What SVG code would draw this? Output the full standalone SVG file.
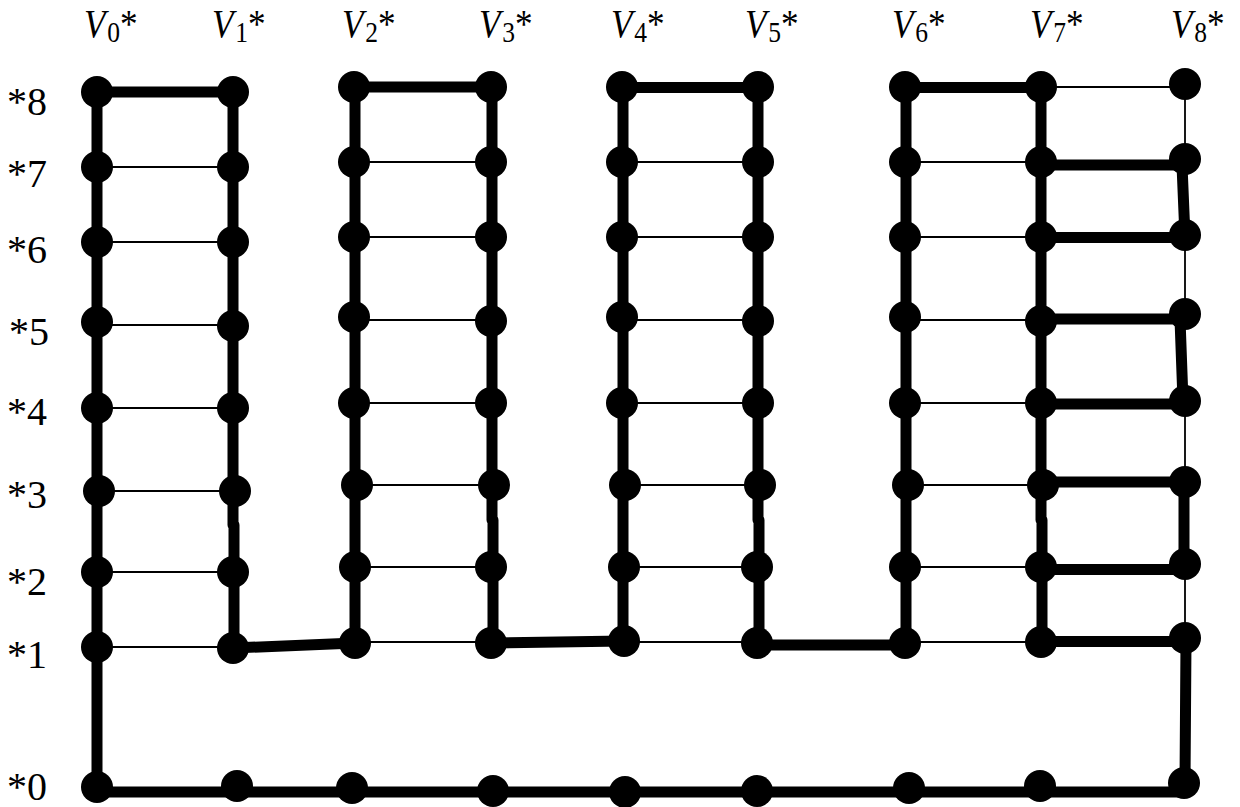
<svg xmlns="http://www.w3.org/2000/svg" width="1240" height="807" viewBox="0 0 1240 807">
<style>
.bg{fill:#fff}
.lbl{font-family:"Liberation Serif","Times New Roman",serif;font-size:40px;fill:#000}
.v{font-style:italic}
.sub{font-size:29px}
.thick{stroke:#000;stroke-width:11;fill:none;stroke-linejoin:round}
.thin{stroke:#000;stroke-width:1.8;fill:none}
.node{fill:#000}
</style>
<rect class="bg" x="0" y="0" width="1240" height="807"/>
<g id="col-labels">
<text class="lbl" transform="translate(84 37) scale(0.88 1)"><tspan class="v">V</tspan><tspan class="sub" dx="2" dy="5">0</tspan><tspan dy="-5">*</tspan></text>
<text class="lbl" transform="translate(212 37) scale(0.88 1)"><tspan class="v">V</tspan><tspan class="sub" dx="2" dy="5">1</tspan><tspan dy="-5">*</tspan></text>
<text class="lbl" transform="translate(342 37) scale(0.88 1)"><tspan class="v">V</tspan><tspan class="sub" dx="2" dy="5">2</tspan><tspan dy="-5">*</tspan></text>
<text class="lbl" transform="translate(479 37) scale(0.88 1)"><tspan class="v">V</tspan><tspan class="sub" dx="2" dy="5">3</tspan><tspan dy="-5">*</tspan></text>
<text class="lbl" transform="translate(611 37) scale(0.88 1)"><tspan class="v">V</tspan><tspan class="sub" dx="2" dy="5">4</tspan><tspan dy="-5">*</tspan></text>
<text class="lbl" transform="translate(745 37) scale(0.88 1)"><tspan class="v">V</tspan><tspan class="sub" dx="2" dy="5">5</tspan><tspan dy="-5">*</tspan></text>
<text class="lbl" transform="translate(892 37) scale(0.88 1)"><tspan class="v">V</tspan><tspan class="sub" dx="2" dy="5">6</tspan><tspan dy="-5">*</tspan></text>
<text class="lbl" transform="translate(1030 37) scale(0.88 1)"><tspan class="v">V</tspan><tspan class="sub" dx="2" dy="5">7</tspan><tspan dy="-5">*</tspan></text>
<text class="lbl" transform="translate(1171 37) scale(0.88 1)"><tspan class="v">V</tspan><tspan class="sub" dx="2" dy="5">8</tspan><tspan dy="-5">*</tspan></text>
</g>
<g id="row-labels">
<text class="lbl" x="7" y="115">*8</text>
<text class="lbl" x="7" y="187">*7</text>
<text class="lbl" x="7" y="263">*6</text>
<text class="lbl" x="9" y="345">*5</text>
<text class="lbl" x="7" y="425">*4</text>
<text class="lbl" x="7" y="508">*3</text>
<text class="lbl" x="7" y="595">*2</text>
<text class="lbl" x="7" y="668">*1</text>
<text class="lbl" x="7" y="800">*0</text>
</g>
<g id="connectors">
<g id="thin-edges" class="thin">
<path d="M97 167H233M97 242H233M97 325H233M97 408H233M97 491H233M97 572H233M97 647H233"/>
<path d="M354 162H491M354 237H491M354 320H491M354 403H491M354 485H491M354 567H491M354 642H491"/>
<path d="M622 162H758M622 237H758M622 320H758M622 403H758M622 485H758M622 567H758M622 642H758"/>
<path d="M905 162H1041M905 237H1041M905 320H1041M905 403H1041M905 485H1041M905 567H1041M905 642H1041"/>
<path d="M1041 87H1185"/>
<path d="M1185 84V159M1185 235V314M1185 401V482M1185 564V638"/>
</g>
<g id="thick-edges" class="thick">
<path d="M97 92V787"/>
<path d="M97 92H233"/>
<path d="M233 92V525H234V648"/>
<path d="M233 648L355 643"/>
<path d="M355 87V643"/>
<path d="M355 87H491"/>
<path d="M492 87V520H493V643"/>
<path d="M492 643L624 641"/>
<path d="M623 87V641"/>
<path d="M623 87.5H758"/>
<path d="M758 87V520H759V643"/>
<path d="M758 645H905"/>
<path d="M906 87V643"/>
<path d="M906 87.5H1041"/>
<path d="M1041 87V520H1042V642"/>
<path d="M1041 165H1182M1041 237.5H1185M1041 319H1180M1041 404H1185M1043 482H1185M1041 569.5H1185M1041 641.5H1185"/>
<path d="M1182 165L1185 237M1180 319L1183 401M1184 482V564M1186 641L1185 783"/>
<path d="M97 792H1185"/>
</g>
</g>
<g id="nodes" class="node">
<g id="V0"><circle cx="97" cy="92" r="16"/><circle cx="97" cy="167" r="16"/><circle cx="97" cy="242" r="16"/><circle cx="97" cy="322" r="16"/><circle cx="97" cy="408" r="16"/><circle cx="99" cy="491" r="16"/><circle cx="97" cy="572" r="16"/><circle cx="97" cy="647" r="16"/><circle cx="97" cy="787" r="16"/></g>
<g id="V1"><circle cx="233" cy="92" r="16"/><circle cx="233" cy="167" r="16"/><circle cx="233" cy="242" r="16"/><circle cx="233" cy="326" r="16"/><circle cx="233" cy="408" r="16"/><circle cx="235" cy="491" r="16"/><circle cx="233" cy="572" r="16"/><circle cx="233" cy="648" r="16"/><circle cx="237" cy="786" r="16"/></g>
<g id="V2"><circle cx="354" cy="87" r="16"/><circle cx="354" cy="162" r="16"/><circle cx="354" cy="237" r="16"/><circle cx="354" cy="317" r="16"/><circle cx="354" cy="403" r="16"/><circle cx="357" cy="485" r="16"/><circle cx="355" cy="567" r="16"/><circle cx="355" cy="643" r="16"/><circle cx="352" cy="788" r="16"/></g>
<g id="V3"><circle cx="491" cy="87" r="16"/><circle cx="491" cy="162" r="16"/><circle cx="491" cy="237" r="16"/><circle cx="491" cy="321" r="16"/><circle cx="491" cy="403" r="16"/><circle cx="494" cy="485" r="16"/><circle cx="491" cy="567" r="16"/><circle cx="491" cy="643" r="16"/><circle cx="493" cy="791" r="16"/></g>
<g id="V4"><circle cx="622" cy="87" r="16"/><circle cx="622" cy="162" r="16"/><circle cx="622" cy="237" r="16"/><circle cx="622" cy="317" r="16"/><circle cx="622" cy="403" r="16"/><circle cx="625" cy="485" r="16"/><circle cx="624" cy="567" r="16"/><circle cx="624" cy="641" r="16"/><circle cx="625" cy="792" r="16"/></g>
<g id="V5"><circle cx="758" cy="87" r="16"/><circle cx="758" cy="162" r="16"/><circle cx="758" cy="237" r="16"/><circle cx="758" cy="321" r="16"/><circle cx="758" cy="403" r="16"/><circle cx="760" cy="485" r="16"/><circle cx="757" cy="567" r="16"/><circle cx="757" cy="643" r="16"/><circle cx="757" cy="791" r="16"/></g>
<g id="V6"><circle cx="905" cy="87" r="16"/><circle cx="905" cy="162" r="16"/><circle cx="905" cy="237" r="16"/><circle cx="905" cy="317" r="16"/><circle cx="905" cy="403" r="16"/><circle cx="908" cy="485" r="16"/><circle cx="905" cy="567" r="16"/><circle cx="905" cy="643" r="16"/><circle cx="909" cy="788" r="16"/></g>
<g id="V7"><circle cx="1041" cy="87" r="16"/><circle cx="1041" cy="162" r="16"/><circle cx="1041" cy="237" r="16"/><circle cx="1041" cy="321" r="16"/><circle cx="1041" cy="403" r="16"/><circle cx="1043" cy="485" r="16"/><circle cx="1041" cy="567" r="16"/><circle cx="1041" cy="642" r="16"/><circle cx="1040" cy="786" r="16"/></g>
<g id="V8"><circle cx="1185" cy="84" r="16"/><circle cx="1185" cy="159" r="16"/><circle cx="1185" cy="235" r="16"/><circle cx="1185" cy="314" r="16"/><circle cx="1185" cy="401" r="16"/><circle cx="1185" cy="482" r="16"/><circle cx="1185" cy="564" r="16"/><circle cx="1185" cy="638" r="16"/><circle cx="1184" cy="783" r="16"/></g>
</g>
</svg>
